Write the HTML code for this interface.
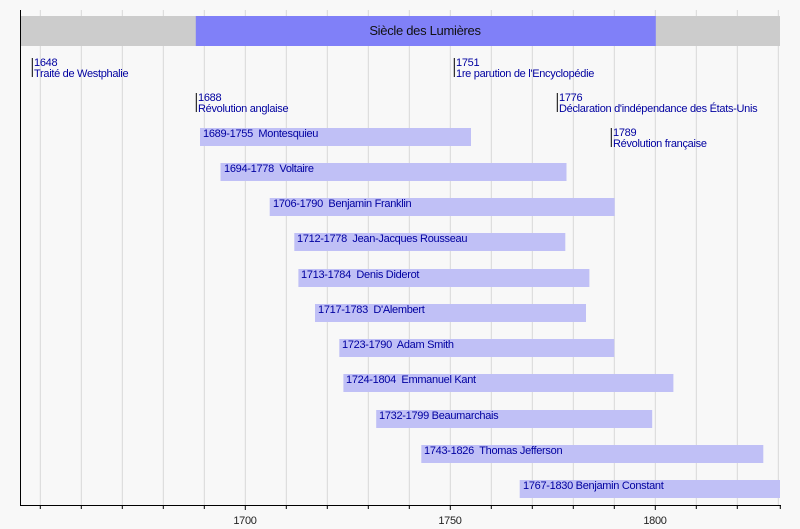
<!DOCTYPE html><html><head><meta charset="utf-8"><style>
body{margin:0;background:#f8f8f8;width:800px;height:524px;overflow:hidden;font-family:"Liberation Sans",sans-serif}
svg text{letter-spacing:-0.3px}
</style></head><body>
<svg width="800" height="524" xmlns="http://www.w3.org/2000/svg" font-family="Liberation Sans, sans-serif">
<rect width="800" height="524" fill="#f8f8f8"/>
<g stroke="#d8d8d8" stroke-width="1">
<line x1="40.3" y1="10" x2="40.3" y2="505"/><line x1="81.3" y1="10" x2="81.3" y2="505"/><line x1="122.3" y1="10" x2="122.3" y2="505"/><line x1="163.3" y1="10" x2="163.3" y2="505"/><line x1="204.3" y1="10" x2="204.3" y2="505"/><line x1="245.3" y1="10" x2="245.3" y2="505"/><line x1="286.3" y1="10" x2="286.3" y2="505"/><line x1="327.3" y1="10" x2="327.3" y2="505"/><line x1="368.3" y1="10" x2="368.3" y2="505"/><line x1="409.3" y1="10" x2="409.3" y2="505"/><line x1="450.3" y1="10" x2="450.3" y2="505"/><line x1="491.3" y1="10" x2="491.3" y2="505"/><line x1="532.3" y1="10" x2="532.3" y2="505"/><line x1="573.3" y1="10" x2="573.3" y2="505"/><line x1="614.3" y1="10" x2="614.3" y2="505"/><line x1="655.3" y1="10" x2="655.3" y2="505"/><line x1="696.3" y1="10" x2="696.3" y2="505"/><line x1="737.3" y1="10" x2="737.3" y2="505"/><line x1="778.3" y1="10" x2="778.3" y2="505"/>
</g>
<rect x="20" y="16" width="760" height="30" fill="#cccccc"/>
<rect x="195.8" y="16" width="460" height="30" fill="#8080f8"/>
<text x="425" y="35" font-size="13" text-anchor="middle" fill="#111">Siècle des Lumières</text>
<g stroke="#000" stroke-width="1">
<line x1="32.3" y1="58" x2="32.3" y2="77"/><line x1="196.3" y1="93" x2="196.3" y2="112"/><line x1="454.3" y1="58" x2="454.3" y2="77"/><line x1="557.3" y1="93" x2="557.3" y2="112"/><line x1="611.3" y1="128" x2="611.3" y2="147"/>
</g>
<g font-size="11" fill="#0000a0">
<text x="34" y="66">1648</text><text x="34" y="77">Traité de Westphalie</text>
<text x="198" y="101">1688</text><text x="198" y="112">Révolution anglaise</text>
<text x="456" y="66">1751</text><text x="456" y="77">1re parution de l'Encyclopédie</text>
<text x="559" y="101">1776</text><text x="559" y="112">Déclaration d'indépendance des États-Unis</text>
<text x="613" y="136">1789</text><text x="613" y="147">Révolution française</text>
</g>
<g fill="#c0c0f6">
<rect x="200" y="128" width="271" height="18"/>
<rect x="220.5" y="163" width="346" height="18"/>
<rect x="269.7" y="198" width="345" height="18"/>
<rect x="294.3" y="233" width="271" height="18"/>
<rect x="298.4" y="269" width="291" height="18"/>
<rect x="315" y="304" width="271" height="18"/>
<rect x="339.3" y="339" width="275" height="18"/>
<rect x="343.4" y="374" width="330" height="18"/>
<rect x="376.2" y="410" width="276" height="18"/>
<rect x="421.3" y="445" width="342" height="18"/>
<rect x="519.7" y="480" width="260.3" height="18"/>
</g>
<g font-size="11" fill="#0000a0">
<text x="203" y="137">1689-1755&#160; Montesquieu</text>
<text x="224" y="172">1694-1778&#160; Voltaire</text>
<text x="273" y="207">1706-1790&#160; Benjamin Franklin</text>
<text x="297" y="242">1712-1778&#160; Jean-Jacques Rousseau</text>
<text x="301" y="278">1713-1784&#160; Denis Diderot</text>
<text x="318" y="313">1717-1783&#160; D'Alembert</text>
<text x="342" y="348">1723-1790&#160; Adam Smith</text>
<text x="346" y="383">1724-1804&#160; Emmanuel Kant</text>
<text x="379" y="419">1732-1799 Beaumarchais</text>
<text x="424" y="454">1743-1826&#160; Thomas Jefferson</text>
<text x="523" y="489">1767-1830 Benjamin Constant</text>
</g>
<g stroke="#000" stroke-width="1">
<line x1="20.5" y1="10" x2="20.5" y2="505"/>
<line x1="20" y1="505.5" x2="781" y2="505.5"/>
<line x1="40.3" y1="505" x2="40.3" y2="509"/><line x1="81.3" y1="505" x2="81.3" y2="509"/><line x1="122.3" y1="505" x2="122.3" y2="509"/><line x1="163.3" y1="505" x2="163.3" y2="509"/><line x1="204.3" y1="505" x2="204.3" y2="509"/><line x1="245.3" y1="505" x2="245.3" y2="510"/><line x1="286.3" y1="505" x2="286.3" y2="509"/><line x1="327.3" y1="505" x2="327.3" y2="509"/><line x1="368.3" y1="505" x2="368.3" y2="509"/><line x1="409.3" y1="505" x2="409.3" y2="509"/><line x1="450.3" y1="505" x2="450.3" y2="510"/><line x1="491.3" y1="505" x2="491.3" y2="509"/><line x1="532.3" y1="505" x2="532.3" y2="509"/><line x1="573.3" y1="505" x2="573.3" y2="509"/><line x1="614.3" y1="505" x2="614.3" y2="509"/><line x1="655.3" y1="505" x2="655.3" y2="510"/><line x1="696.3" y1="505" x2="696.3" y2="509"/><line x1="737.3" y1="505" x2="737.3" y2="509"/><line x1="780.3" y1="505" x2="780.3" y2="509"/>
</g>
<g font-size="11" fill="#222" text-anchor="middle">
<text x="245" y="524">1700</text><text x="450" y="524">1750</text><text x="655" y="524">1800</text>
</g>
</svg>
</body></html>
